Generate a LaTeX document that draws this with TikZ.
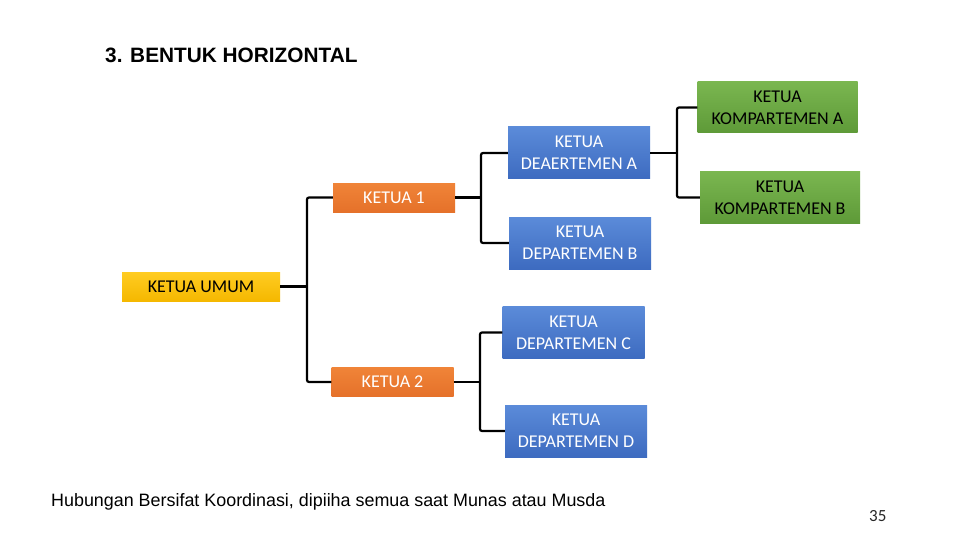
\documentclass[tikz,border=0pt]{standalone}
\usepackage{fontspec}
\setmainfont{Carlito}
\newfontfamily\arialf{Liberation Sans}
\definecolor{bluetop}{HTML}{5B8BD9}
\definecolor{bluebot}{HTML}{3D6BC0}
\definecolor{ortop}{HTML}{F08438}
\definecolor{orbot}{HTML}{E5712A}
\definecolor{grtop}{HTML}{7AB650}
\definecolor{grbot}{HTML}{5E9A38}
\definecolor{yetop}{HTML}{FFCC22}
\definecolor{yebot}{HTML}{F5B800}
\tikzset{
  box/.style={rectangle, inner sep=0pt, align=center, font=\fontsize{18}{22}\selectfont},
  bluebox/.style={box, top color=bluetop, bottom color=bluebot, text=white, minimum width=142, minimum height=52},
  greenbox/.style={box, top color=grtop, bottom color=grbot, text=black, minimum width=160, minimum height=51},
  orangebox/.style={box, top color=ortop, bottom color=orbot, text=white, minimum width=122, minimum height=29},
  yellowbox/.style={box, top color=yetop, bottom color=yebot, text=black, minimum width=158, minimum height=29},
  conn/.style={draw=black, line width=2.2pt, rounded corners=2pt}
}
\begin{document}
\begin{tikzpicture}[x=1pt,y=-1pt]
\useasboundingbox (0,0) rectangle (960,540);
\fill[white] (0,0) rectangle (960,540);
\node[anchor=base west, inner sep=0pt, font=\arialf\bfseries\fontsize{20.8}{24}\selectfont] (title) at (105,62.3) {3. BENTUK HORIZONTAL};
\node[yellowbox] (umum) at (201,286.5) {KETUA UMUM};
\node[orangebox] (k1) at (394,197.5) {KETUA 1};
\node[orangebox] (k2) at (392.5,382) {KETUA 2};
\node[bluebox] (dpa) at (579,153) {KETUA\\DEAERTEMEN A};
\node[bluebox] (dpb) at (580,243) {KETUA\\DEPARTEMEN B};
\node[bluebox] (dpc) at (573.5,332.5) {KETUA\\DEPARTEMEN C};
\node[bluebox] (dpd) at (576,431) {KETUA\\DEPARTEMEN D};
\node[greenbox] (kpa) at (777.5,107.5) {KETUA\\KOMPARTEMEN A};
\node[greenbox] (kpb) at (780,197.5) {KETUA\\KOMPARTEMEN B};
\coordinate (b0) at (307,286.5);
\coordinate (b1) at (481,197.5);
\coordinate (b2) at (677,153);
\coordinate (b3) at (480,382);
\draw[conn] (umum.east) -- (b0);
\draw[conn] (k1.west) -| (b0) |- (k2.west);
\draw[conn] (k1.east) -- (b1);
\draw[conn] (dpa.west) -| (b1) |- (dpb.west);
\draw[conn] (dpa.east) -- (b2);
\draw[conn] (kpa.west) -| (b2) |- (kpb.west);
\draw[conn] (k2.east) -- (b3);
\draw[conn] (dpc.west) -| (b3) |- (dpd.west);
\node[anchor=base west, inner sep=0pt, font=\arialf\fontsize{17.9}{20}\selectfont] (note) at (51,506.5) {Hubungan Bersifat Koordinasi, dipiiha semua saat Munas atau Musda};
\node[anchor=base west, inner sep=0pt, font=\fontsize{17}{19}\selectfont, text=black!85] (page) at (869,521) {35};
\end{tikzpicture}
\end{document}
